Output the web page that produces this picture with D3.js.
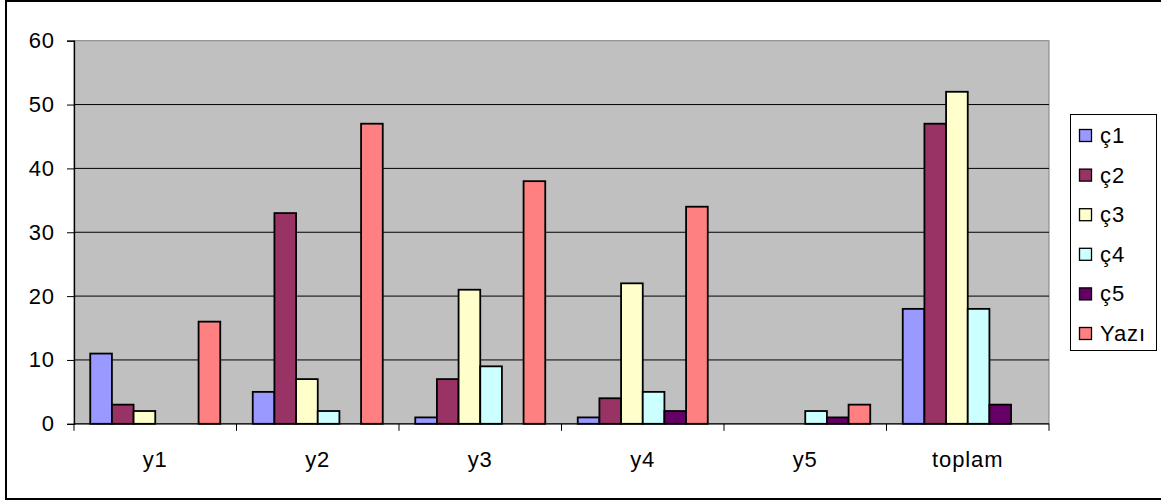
<!DOCTYPE html>
<html>
<head>
<meta charset="utf-8">
<script src="https://cdn.jsdelivr.net/npm/d3@7"></script>
<style>
  html, body { margin: 0; padding: 0; background: #fff; }
  svg { display: block; font-family: "Liberation Sans", Arial, sans-serif; }
</style>
</head>
<body>
<svg id="chart" width="1161" height="501"></svg>
<script>
const categories = ["y1", "y2", "y3", "y4", "y5", "toplam"];
const seriesNames = ["ç1", "ç2", "ç3", "ç4", "ç5", "Yazı"];
const c1 = [11, 5, 1, 1, 0, 18];
const c2 = [3, 33, 7, 4, 0, 47];
const c3 = [2, 7, 21, 22, 0, 52];
const c4 = [0, 2, 9, 5, 2, 18];
const c5 = [0, 0, 0, 2, 1, 3];
const yazi = [16, 47, 38, 34, 3, null];
const seriesValues = [c1, c2, c3, c4, c5, yazi];
const yTicks = [0, 10, 20, 30, 40, 50, 60];
const colors = ["#9999FF", "#993366", "#FFFFCC", "#CCFFFF", "#660066", "#FF8080"];

const svg = d3.select("#chart");
const W = 1161, H = 501;
const plot = { left: 74, right: 1049, top: 40.7, bottom: 423.8 };
const FS = 22, LS = "0.9px";

svg.append("rect").attr("width", W).attr("height", H).attr("fill", "#fff");

// outer border
svg.append("rect")
  .attr("x", 6).attr("y", 1).attr("width", 1170).attr("height", 498)
  .attr("fill", "none").attr("stroke", "#000").attr("stroke-width", 2);

const x = d3.scaleBand().domain(categories).range([plot.left, plot.right]).paddingInner(0).paddingOuter(0);
const xs = d3.scaleBand().domain(seriesNames).range([0, x.bandwidth()]).paddingInner(0).paddingOuter(0.75);
const y = d3.scaleLinear().domain([0, 60]).range([plot.bottom, plot.top]);

// plot area
svg.append("rect")
  .attr("x", plot.left).attr("y", plot.top)
  .attr("width", plot.right - plot.left).attr("height", plot.bottom - plot.top)
  .attr("fill", "#C0C0C0").attr("stroke", "#808080").attr("stroke-width", 1);

// gridlines
svg.append("g").selectAll("line").data(yTicks.filter(d => d > 0 && d < 60)).join("line")
  .attr("x1", plot.left).attr("x2", plot.right)
  .attr("y1", d => y(d)).attr("y2", d => y(d))
  .attr("stroke", "#000").attr("stroke-width", 1);

// bars
const data = [];
categories.forEach((c, i) => {
  seriesNames.forEach((s, j) => {
    const v = seriesValues[j][i];
    if (v !== null && v > 0) data.push({ c, s, v, j });
  });
});
svg.append("g").selectAll("rect").data(data).join("rect")
  .attr("x", d => x(d.c) + xs(d.s))
  .attr("y", d => y(d.v))
  .attr("width", xs.bandwidth())
  .attr("height", d => y(0) - y(d.v))
  .attr("fill", d => colors[d.j])
  .attr("stroke", "#000").attr("stroke-width", 1.8);

// y axis
const yAxis = d3.axisLeft(y).tickValues(yTicks).tickSize(7).tickPadding(12).tickFormat(d3.format("d"));
const gy = svg.append("g").attr("transform", `translate(${plot.left},0)`).call(yAxis);
gy.select(".domain").attr("stroke", "#000").attr("stroke-width", 1.3);
gy.selectAll(".tick line").attr("stroke", "#000");
gy.selectAll(".tick text").attr("font-size", FS).attr("fill", "#000")
  .attr("letter-spacing", LS)
  .attr("font-family", "Liberation Sans, Arial, sans-serif");

// x axis
const boundaries = categories.map(c => x(c)).concat([plot.right]);
const xAxisG = svg.append("g");
xAxisG.append("line")
  .attr("x1", plot.left).attr("x2", plot.right)
  .attr("y1", y(0)).attr("y2", y(0))
  .attr("stroke", "#000").attr("stroke-width", 1.3);
xAxisG.selectAll("line.tk").data(boundaries).join("line").attr("class", "tk")
  .attr("x1", d => d).attr("x2", d => d)
  .attr("y1", y(0)).attr("y2", y(0) + 7)
  .attr("stroke", "#000");
xAxisG.selectAll("text").data(categories).join("text")
  .attr("x", d => x(d) + x.bandwidth() / 2)
  .attr("y", 467)
  .attr("text-anchor", "middle")
  .attr("font-size", FS).attr("letter-spacing", LS).attr("fill", "#000")
  .text(d => d);

// legend
const lg = svg.append("g");
lg.append("rect")
  .attr("x", 1070.5).attr("y", 114.5).attr("width", 86).attr("height", 236)
  .attr("fill", "#fff").attr("stroke", "#000").attr("stroke-width", 1);
const items = lg.selectAll("g.item").data(seriesNames).join("g").attr("class", "item")
  .attr("transform", (d, i) => `translate(0,${135.5 + i * 39.6})`);
items.append("rect")
  .attr("x", 1079.5).attr("y", -6).attr("width", 12).attr("height", 12)
  .attr("fill", (d, i) => colors[i]).attr("stroke", "#000").attr("stroke-width", 1.3);
items.append("text")
  .attr("x", 1100).attr("y", 7.5)
  .attr("font-size", FS).attr("letter-spacing", LS).attr("fill", "#000")
  .text(d => d);
</script>
</body>
</html>
